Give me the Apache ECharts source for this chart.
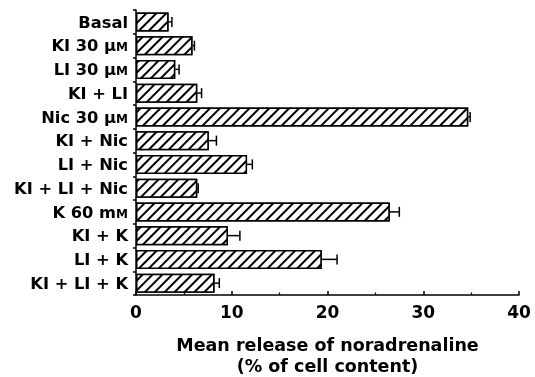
<!DOCTYPE html>
<html>
<head>
<meta charset="utf-8">
<script src="https://cdn.jsdelivr.net/npm/echarts@6/dist/echarts.min.js"></script>
<style>
html,body{margin:0;padding:0;background:#fff;}
#chart{width:535px;height:377px;}
</style>
</head>
<body>
<div id="chart"></div>
<script>
const categories = ['Basal','KI 30 μM','LI 30 μM','KI + LI','Nic 30 μM','KI + Nic','LI + Nic','KI + LI + Nic','K 60 mM','KI + K','LI + K','KI + LI + K'];
const meanRelease = [3.4, 5.9, 4.1, 6.4, 34.7, 7.6, 11.6, 6.4, 26.5, 9.6, 19.4, 8.2];
const errorPlus = [0.35, 0.2, 0.4, 0.45, 0.2, 0.8, 0.55, 0.1, 1.0, 1.25, 1.6, 0.5];
const xTicks = [0, 10, 20, 30, 40];

const FONT = 'DejaVu Sans';
const chart = echarts.init(document.getElementById('chart'), null, {renderer: 'canvas'});

const errData = meanRelease.map((v, i) => [v, i, v + errorPlus[i]]);

chart.setOption({
  animation: false,
  backgroundColor: '#fff',
  grid: {left: 136, right: 16, top: 10, bottom: 82, containLabel: false, outerBoundsMode: 'none'},
  xAxis: {
    type: 'value',
    min: xTicks[0], max: xTicks[xTicks.length - 1], interval: 10,
    axisLine: {show: true, lineStyle: {color: '#000', width: 1.5}},
    axisTick: {show: true, inside: true, length: 4, lineStyle: {color: '#000', width: 1.5}},
    minorTick: {show: true, splitNumber: 2, length: 2.5, lineStyle: {color: '#000', width: 1.2}},
    splitLine: {show: false},
    axisLabel: {color: '#000', fontFamily: FONT, fontWeight: 'bold', fontSize: 17, margin: 10},
    name: 'Mean release of noradrenaline\n(% of cell content)',
    nameLocation: 'middle', nameGap: 41,
    nameTextStyle: {color: '#000', fontFamily: FONT, fontWeight: 'bold', fontSize: 17.5, lineHeight: 21}
  },
  yAxis: {
    type: 'category', data: categories, inverse: true,
    axisLine: {show: true, lineStyle: {color: '#000', width: 1.5}},
    axisTick: {show: true, length: 3, lineStyle: {color: '#000', width: 1.5}},
    axisLabel: {
      color: '#000', fontFamily: FONT, fontWeight: 'bold', fontSize: 16.3, margin: 8,
      formatter: function (s) {
        const m = s.match(/^(.*[μm])M$/);
        if (m) return '{a|' + m[1] + '}{s|M}';
        return '{a|' + s + '}';
      },
      rich: {
        a: {color: '#000', fontFamily: FONT, fontWeight: 'bold', fontSize: 16.3, verticalAlign: 'bottom', lineHeight: 19},
        s: {color: '#000', fontFamily: FONT, fontWeight: 'bold', fontSize: 12, verticalAlign: 'bottom', lineHeight: 19, padding: [0, 0, 1, 0]}
      }
    }
  },
  series: [
    {
      type: 'bar',
      data: meanRelease,
      barCategoryGap: '20%',
      itemStyle: {
        color: '#fff', borderColor: '#000', borderWidth: 1.5,
        decal: {symbol: 'rect', symbolSize: 1, dashArrayX: [1, 0], dashArrayY: [1.15, 4.6], rotation: -Math.PI / 4, color: '#000', backgroundColor: '#fff'}
      }
    },
    {
      type: 'custom',
      data: errData,
      encode: {x: [0, 2], y: 1},
      z: 5,
      renderItem: function (params, api) {
        const y = api.value(1);
        const p0 = api.coord([api.value(0), y]);
        const p1 = api.coord([api.value(2), y]);
        const h = 10;
        return {
          type: 'group',
          children: [
            {type: 'line', shape: {x1: p0[0], y1: p0[1], x2: p1[0], y2: p1[1]}, style: {stroke: '#000', lineWidth: 1.5}},
            {type: 'line', shape: {x1: p1[0], y1: p1[1] - h / 2, x2: p1[0], y2: p1[1] + h / 2}, style: {stroke: '#000', lineWidth: 1.5}}
          ]
        };
      }
    }
  ]
});
</script>
</body>
</html>
